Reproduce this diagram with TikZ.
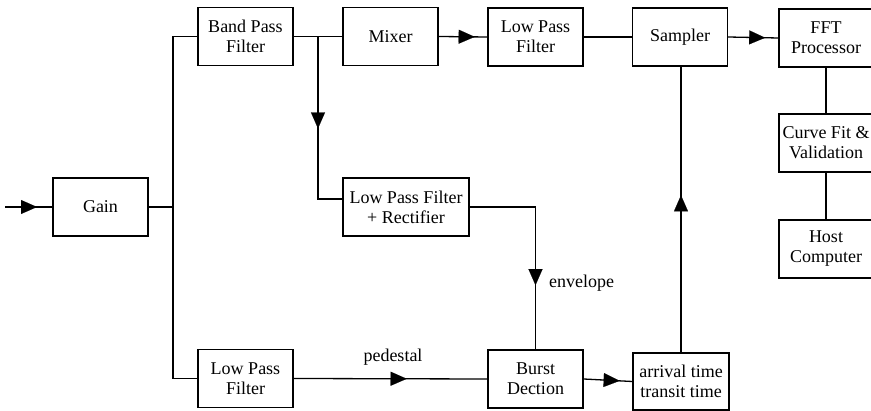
\documentclass[tikz,border=0pt]{standalone}
\usepackage{fontspec}
\setmainfont{Liberation Serif}
\usetikzlibrary{arrows.meta,decorations.markings,calc}

\tikzset{
  blk/.style={draw, line width=1.4pt, minimum width=95pt, minimum height=58pt,
    align=center, inner sep=1pt, font=\fontsize{18}{20}\selectfont},
  wire/.style={line width=1.3pt},
  tipat/.style={postaction={decorate, decoration={markings,
    mark=at position #1 with {\arrow[line width=0.1pt]{Triangle[length=16pt,width=14pt]}}}}},
  lbl/.style={font=\fontsize{18}{20}\selectfont, inner sep=1pt}
}

\begin{document}
\begin{tikzpicture}[x=1pt, y=-1pt]
\useasboundingbox (0,0) rectangle (871,411);

% processing blocks
\node[blk] (gain) at (100.5,207) {Gain};
\node[blk] (bpf)  at (245.5,36.5) {Band Pass\\Filter};
\node[blk] (mix)  at (390.5,36.5) {Mixer};
\node[blk] (lpfa) at (535.5,37) {Low Pass\\Filter};
\node[blk] (samp) at (680,37) {Sampler};
\node[blk, minimum width=94pt] (fft) at (826,38) {FFT\\Processor};
\node[blk, minimum width=94pt] (fit) at (826,143) {Curve Fit \&\\Validation};
\node[blk, minimum width=94pt] (host) at (826,249) {Host\\Computer};
\node[blk, minimum width=126pt] (lpfr) at (406,207) {Low Pass Filter\\+ Rectifier};
\node[blk] (lpfb) at (245.5,378.5) {Low Pass\\Filter};
\node[blk] (burst) at (535.5,379) {Burst\\Dection};
\node[blk, minimum width=96pt, minimum height=57pt] (arr) at (681,381.5) {arrival time\\transit time};

% junction points and input end
\coordinate (in) at (5,207);
\coordinate (split) at (173,207);
\coordinate (tap) at (318,36.5);

% connectors
\draw[wire, tipat=32pt] (in) -- (gain.west);
\draw[wire] (gain.east) -- (split);
\draw[wire] (bpf.west) -| (split) |- (lpfb.west);
\draw[wire] (bpf.east) -- (mix.west);
\draw[wire, tipat=92pt] (tap) |- ($(lpfr.west)+(0,-8)$);
\draw[wire, tipat=36pt] (mix.east) -- (lpfa.west);
\draw[wire] (lpfa.east) -- (samp.west);
\draw[wire, tipat=37pt] (samp.east) -- (fft.west);
\draw[wire] (fft.south) -- (fit.north);
\draw[wire] (fit.south) -- (host.north);
\draw[wire, tipat=144pt] (lpfr.east) -| (burst.north);
\draw[wire, tipat=113pt] (lpfb.east) -- (burst.west);
\draw[wire, tipat=36pt] (burst.east) -- (arr.west);
\draw[wire, tipat=157pt] (arr.north) -- (arr.north|-samp.south);

% signal labels
\node[lbl] (ped) at (393,357) {pedestal};
\node[lbl, anchor=west] (env) at (548,283) {envelope};
\end{tikzpicture}
\end{document}
